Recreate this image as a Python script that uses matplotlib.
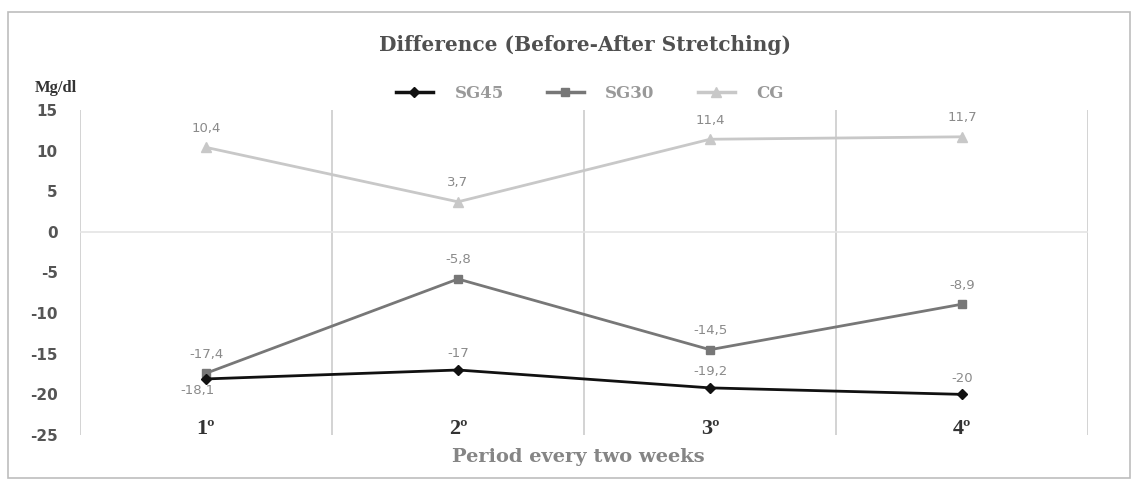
import matplotlib
matplotlib.use("Agg")
import matplotlib.pyplot as plt
from matplotlib.lines import Line2D
from matplotlib.patches import Rectangle

periods = ["1º", "2º", "3º", "4º"]
sg45 = [-18.1, -17.0, -19.2, -20.0]
sg30 = [-17.4, -5.8, -14.5, -8.9]
cg = [10.4, 3.7, 11.4, 11.7]
sg45_labels = ["-18,1", "-17", "-19,2", "-20"]
sg30_labels = ["-17,4", "-5,8", "-14,5", "-8,9"]
cg_labels = ["10,4", "3,7", "11,4", "11,7"]
yticks = [15, 10, 5, 0, -5, -10, -15, -20, -25]

fig = plt.figure(figsize=(11.31, 4.79), dpi=100)
fig.patches.append(Rectangle((8/1131, 0.002), 1 - 8/1131 - 0.001, 1 - 12/479 - 0.002,
                             transform=fig.transFigure, fill=False, ec="#bdbdbd", lw=1.2))
ax = fig.add_axes([80/1131, 1 - 435/479, 1008/1131, 325/479])

x = list(range(len(periods)))
ax.set_xlim(-0.5, 3.5)
ax.set_ylim(-25, 15)

for b in [-0.5, 0.5, 1.5, 2.5, 3.5]:
    ax.axvline(b, color="#d0d0d0", lw=1.3, zorder=0)
ax.axhline(0, color="#e4e4e4", lw=1.2, zorder=0)

ax.plot(x, cg, color="#c8c8c8", lw=2, marker="^", ms=7, zorder=2)
ax.plot(x, sg30, color="#777777", lw=2, marker="s", ms=6, zorder=3)
ax.plot(x, sg45, color="#111111", lw=2, marker="D", ms=5, zorder=4)

lab_kw = dict(ha="center", fontsize=9.5, color="#8a8a8a")
for i in x:
    ax.annotate(cg_labels[i], (i, cg[i]), xytext=(0, 9), textcoords="offset points", va="bottom", **lab_kw)
    ax.annotate(sg30_labels[i], (i, sg30[i]), xytext=(0, 9), textcoords="offset points", va="bottom", **lab_kw)
    if i == 0:
        ax.annotate(sg45_labels[i], (i, sg45[i]), xytext=(-6, -4), textcoords="offset points", va="top", **lab_kw)
    else:
        ax.annotate(sg45_labels[i], (i, sg45[i]), xytext=(0, 7), textcoords="offset points", va="bottom", **lab_kw)

for s in ax.spines.values():
    s.set_visible(False)
ax.set_yticks(yticks)
ax.set_yticklabels([str(t) for t in yticks], fontsize=11, color="#555555", fontweight="bold")
ax.tick_params(axis="y", length=0, pad=16)
ax.set_xticks([])
for i, p in enumerate(periods):
    ax.text(i, -24.3, p, ha="center", va="center", fontsize=16, color="#333333",
            family="Liberation Serif", fontweight="bold")

fig.text(585/1131, 1 - 45/479, "Difference (Before-After Stretching)", ha="center", va="center",
         fontsize=14.5, fontweight="bold", family="DejaVu Serif", color="#505050")
fig.text(35/1131, 1 - 88/479, "Mg/dl", ha="left", va="center", fontsize=12,
         fontweight="bold", family="Liberation Serif", color="#333333")
fig.text(578/1131, 1 - 457/479, "Period every two weeks", ha="center", va="center",
         fontsize=14, fontweight="bold", family="DejaVu Serif", color="#858585")

handles = [Line2D([], [], color="#111111", lw=2.5, marker="D", ms=5),
           Line2D([], [], color="#777777", lw=2.5, marker="s", ms=6),
           Line2D([], [], color="#c8c8c8", lw=2.5, marker="^", ms=7)]
leg = fig.legend(handles, ["SG45", "SG30", "CG"], loc="center", bbox_to_anchor=(590/1131, 1 - 93/479),
                 ncol=3, frameon=False, handlelength=2.2, columnspacing=2.6, handletextpad=1.3,
                 prop={"family": "DejaVu Serif", "size": 12, "weight": "bold"})
for t in leg.get_texts():
    t.set_color("#999999")

fig.savefig("out.png", dpi=100)
